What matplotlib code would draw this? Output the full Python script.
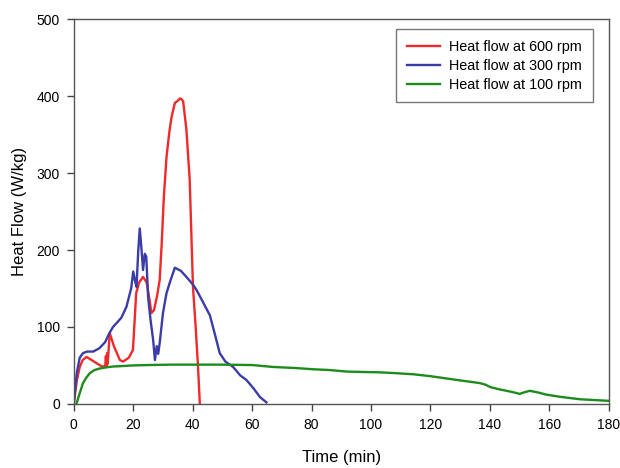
import matplotlib
matplotlib.use("Agg")
import matplotlib.pyplot as plt

plt.rcParams['font.family'] = ['Liberation Sans', 'DejaVu Sans']

# Heat flow at 600 rpm
t600 = [0, 1, 2, 3, 4.3, 6, 8, 9.8, 10.6, 10.8, 11.0, 11.2, 11.4, 12.1, 13.5, 15.5, 16.6, 18.5, 19.9,
        21, 22, 23.3, 24.5, 25.5, 26.1, 27, 28, 28.9, 29.6, 30.3, 31.2, 32.2, 32.9, 34, 35, 35.7,
        36.3, 36.8, 37.9, 39, 40.1, 41.0, 41.8, 42.4]
q600 = [0, 30, 48, 57, 61, 57, 52, 48, 50, 62, 48, 66, 52, 92, 75, 57, 55, 60, 70,
        144, 158, 165, 158, 135, 118, 122, 140, 161, 210, 269, 321, 355, 373, 391, 394, 397,
        396, 393, 356, 291, 152, 100, 48, 0]

# Heat flow at 300 rpm
t300 = [0, 1, 2, 3.1, 4.5, 6.5, 8.5, 10.5, 12, 13.2, 14.4, 16, 17.7, 19.3, 20, 20.6, 21.1, 21.7, 22.2,
        22.8, 23.3, 23.9, 24.4, 25, 25.8, 26.7, 27.3, 27.9, 28.4, 28.9, 30, 31.2, 32.5, 34, 36,
        37.9, 40.1, 41.3, 43.5, 45.8, 47.5, 49.1, 51, 53.6, 56, 58.1, 60.5, 62.6, 64.8]
q300 = [0, 40, 60, 66, 68, 68, 72, 80, 92, 100, 105, 112, 126, 150, 172, 160, 152, 200, 228,
        200, 174, 195, 191, 139, 110, 83, 57, 75, 65, 79, 118, 144, 160, 177, 173,
        165, 155, 148, 132, 115, 90, 66, 55, 48, 37, 31, 20, 9, 2]

# Heat flow at 100 rpm
t100 = [0.9, 2, 3.1, 4.2, 5.4, 7, 8.7, 11, 13, 15.5, 20, 25, 32.3, 40, 50, 60, 67, 69.3, 75,
        80.5, 86, 91.8, 97, 103, 108, 114.2, 120, 125.4, 131, 136.6, 138.5, 140, 143, 145.6,
        148, 150, 151.5, 153.4, 156, 159, 164, 170.3, 175, 179.7]
q100 = [0, 14, 27, 34, 40, 44, 46, 47.5, 48.5, 49, 50, 50.5, 51, 51, 51, 50.5, 48, 47.6, 46.5,
        45, 44, 42, 41.5, 41, 40, 38.5, 36, 33, 30, 27, 25, 22, 19, 17,
        15, 13, 15, 17, 15, 12, 9, 6, 5, 4]

fig = plt.figure(figsize=(6.2, 4.68), dpi=100)
ax = fig.add_axes([0.119, 0.137, 0.863, 0.822])

ax.plot(t600, q600, color='#ee2a2a', lw=1.7, label='Heat flow at 600 rpm')
ax.plot(t300, q300, color='#3a3ca8', lw=1.7, label='Heat flow at 300 rpm')
ax.plot(t100, q100, color='#1c8c1c', lw=1.7, label='Heat flow at 100 rpm')

ax.set_xlim(0, 180)
ax.set_ylim(0, 500)
ax.set_xticks(range(0, 181, 20))
ax.set_yticks(range(0, 501, 100))
ax.tick_params(direction='out', length=5, width=1, labelsize=10, color='#444444',
               top=False, right=False, pad=5)
for s in ax.spines.values():
    s.set_color('#555555')
    s.set_linewidth(1)

ax.set_xlabel('Time (min)', fontsize=12, labelpad=13)
ax.set_ylabel('Heat Flow (W/kg)', fontsize=12, labelpad=7)

leg = ax.legend(loc='upper right', bbox_to_anchor=(0.970, 0.974), fontsize=10.4,
                frameon=True, fancybox=False, edgecolor='#555555', handlelength=2.3,
                borderpad=0.75, labelspacing=0.33, handletextpad=0.6, borderaxespad=0)
leg.get_frame().set_linewidth(1)

fig.savefig('out.png', dpi=100)
